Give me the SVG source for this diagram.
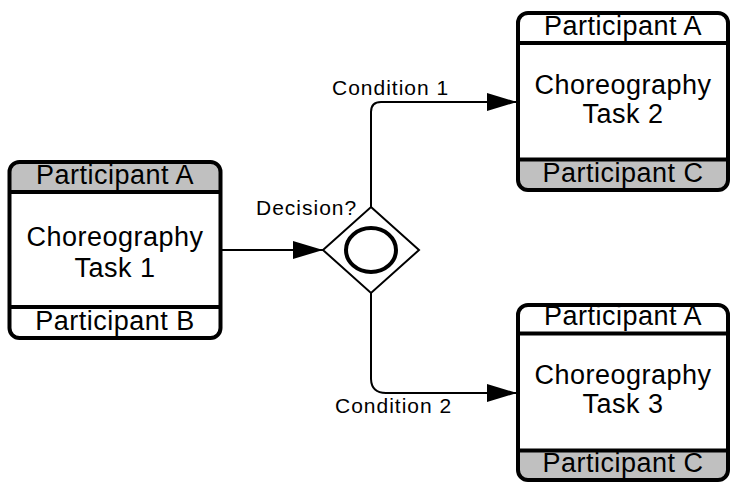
<svg xmlns="http://www.w3.org/2000/svg" width="730" height="483" viewBox="0 0 730 483">
<style>
.box{fill:#fff;stroke:none}
.band{fill:#c0c0c0;stroke:none}
.frame{fill:none;stroke:#000;stroke-width:4}
.sep{stroke:#000;stroke-width:4}
.big{font-family:"Liberation Sans",Arial,sans-serif;font-size:27px;letter-spacing:0.5px;text-anchor:middle;fill:#000}
.small{font-family:"Liberation Sans",Arial,sans-serif;font-size:21px;letter-spacing:1px;fill:#000}
.flow{fill:none;stroke:#000;stroke-width:2}
</style>
<defs>
<marker id="arrow" markerUnits="userSpaceOnUse" markerWidth="30" markerHeight="18" refX="30" refY="9" orient="auto">
<path d="M0,0 L30,9 L0,18 Z" fill="#000"/>
</marker>
</defs>
<rect width="730" height="483" fill="#fff"/>

<g id="connectors">
<path class="flow" d="M221,250 L323,250" marker-end="url(#arrow)"/>
<path class="flow" d="M371,207 L371,112 Q371,102 381,102 L517,102" marker-end="url(#arrow)"/>
<path class="flow" d="M371,293 L371,379 Q371.5,393 386,393 L517,393" marker-end="url(#arrow)"/>
</g>

<g id="task1">
<rect class="box" x="9.5" y="162" width="211" height="176" rx="10"/>
<path class="band" d="M9.5,192 V172 A10,10 0 0 1 19.5,162 H210.5 A10,10 0 0 1 220.5,172 V192 Z"/>
<rect class="frame" x="9.5" y="162" width="211" height="176" rx="10"/>
<line class="sep" x1="9.5" y1="192" x2="220.5" y2="192"/>
<line class="sep" x1="9.5" y1="307" x2="220.5" y2="307"/>
<text class="big" x="115" y="183.5">Participant A</text>
<text class="big" x="115" y="245.5">Choreography</text>
<text class="big" x="115" y="276.5">Task 1</text>
<text class="big" x="115" y="330">Participant B</text>
</g>

<g id="gateway">
<polygon points="371,207 419,250 371,293 323,250" fill="#fff" stroke="#000" stroke-width="2"/>
<ellipse cx="371" cy="250" rx="25" ry="22" fill="none" stroke="#000" stroke-width="4"/>
<text class="small" x="256" y="215">Decision?</text>
</g>

<g id="labels">
<text class="small" x="332" y="95">Condition 1</text>
<text class="small" x="335" y="412.5">Condition 2</text>
</g>

<g id="task2">
<rect class="box" x="518" y="13" width="210" height="177" rx="10"/>
<path class="band" d="M518,159.5 H728 V180 A10,10 0 0 1 718,190 H528 A10,10 0 0 1 518,180 Z"/>
<rect class="frame" x="518" y="13" width="210" height="177" rx="10"/>
<line class="sep" x1="518" y1="43" x2="728" y2="43"/>
<line class="sep" x1="518" y1="159.5" x2="728" y2="159.5"/>
<text class="big" x="623" y="35">Participant A</text>
<text class="big" x="623" y="94.3">Choreography</text>
<text class="big" x="623" y="123.3">Task 2</text>
<text class="big" x="623" y="181.7">Participant C</text>
</g>

<g id="task3">
<rect class="box" x="518" y="305" width="210" height="175" rx="10"/>
<path class="band" d="M518,450.5 H728 V470 A10,10 0 0 1 718,480 H528 A10,10 0 0 1 518,470 Z"/>
<rect class="frame" x="518" y="305" width="210" height="175" rx="10"/>
<line class="sep" x1="518" y1="333.5" x2="728" y2="333.5"/>
<line class="sep" x1="518" y1="450.5" x2="728" y2="450.5"/>
<text class="big" x="623" y="325">Participant A</text>
<text class="big" x="623" y="384.3">Choreography</text>
<text class="big" x="623" y="413.3">Task 3</text>
<text class="big" x="623" y="471.7">Participant C</text>
</g>
</svg>
